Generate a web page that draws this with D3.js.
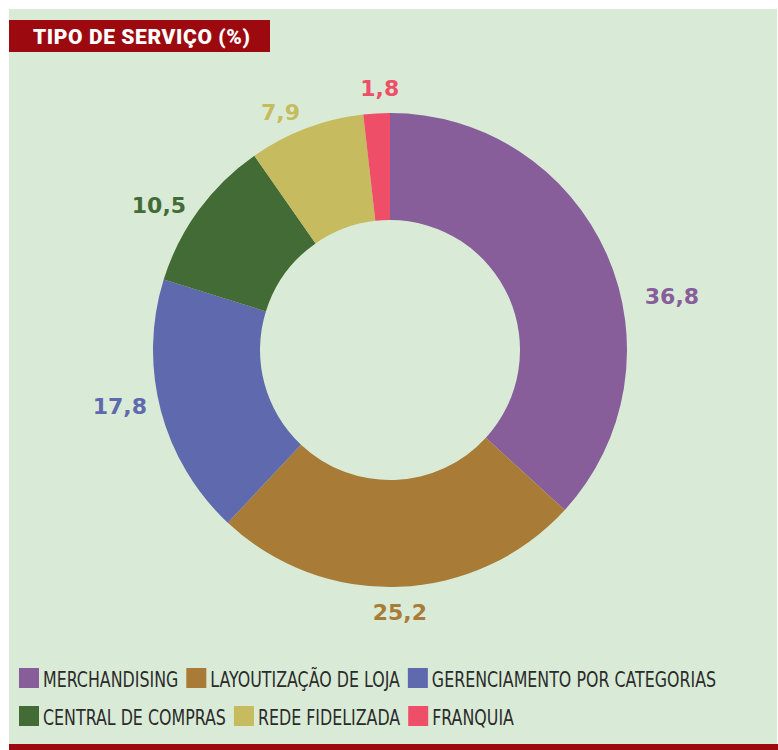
<!DOCTYPE html>
<html>
<head>
<meta charset="utf-8">
<script src="https://cdn.jsdelivr.net/npm/d3@7"></script>
<style>
  body { margin: 0; background: #fff; }
  svg { display: block; }
</style>
</head>
<body>
<div id="chart"></div>
<script>

const categories = ['MERCHANDISING', 'LAYOUTIZAÇÃO DE LOJA', 'GERENCIAMENTO POR CATEGORIAS', 'CENTRAL DE COMPRAS', 'REDE FIDELIZADA', 'FRANQUIA']
const values = [36.8, 25.2, 17.8, 10.5, 7.9, 1.8]
const colors = ['#875d9a', '#a87c36', '#5f69ad', '#436b35', '#c6bb5e', '#ee4e68']
const title = 'TIPO DE SERVIÇO (%)'

// label placement tweaks (degrees / px), layout only
const labelShift = [13, 0, 3, -4, -4, 1]
const labelRadius = [287, 262, 276, 273, 262, 262]

const width = 778, height = 750
const cx = 390, cy = 350
const outerR = 237, innerR = 130

const fmt = v => d3.format('.1f')(v).replace('.', ',')

let svg = d3.select('#chart').append('svg')
  .attr('width', width)
  .attr('height', height)

// panel
svg.append('rect')
  .attr('x', 9).attr('y', 9)
  .attr('width', 768).attr('height', 741)
  .style('fill', '#d9ebd6')

svg.append('rect')
  .attr('x', 9).attr('y', 744)
  .attr('width', 769).attr('height', 6)
  .style('fill', '#9c0a10')

// title
svg.append('rect')
  .attr('x', 9).attr('y', 20)
  .attr('width', 261).attr('height', 32)
  .style('fill', '#9c0a10')

svg.append('text')
  .attr('x', 33).attr('y', 44)
  .style('font-family', 'Roboto, "Liberation Sans", sans-serif')
  .style('font-weight', 900)
  .style('font-size', '21px')
  .style('letter-spacing', '0.6px')
  .style('fill', '#fff')
  .text(title)

// donut
let data = categories.map((c, i) => ({ name: c, value: values[i], color: colors[i], i: i }))

let pie = d3.pie().sort(null).value(d => d.value)
let arc = d3.arc().innerRadius(innerR).outerRadius(outerR)

let arcs = pie(data)

let g = svg.append('g').attr('transform', 'translate(' + cx + ',' + cy + ')')

g.selectAll('path')
  .data(arcs)
  .enter()
  .append('path')
  .attr('d', arc)
  .style('fill', d => d.data.color)

g.selectAll('text')
  .data(arcs)
  .enter()
  .append('text')
  .attr('transform', d => {
    let a = (d.startAngle + d.endAngle) / 2 + labelShift[d.data.i] * Math.PI / 180
    let r = labelRadius[d.data.i]
    return 'translate(' + (r * Math.sin(a)) + ',' + (-r * Math.cos(a)) + ')'
  })
  .attr('text-anchor', 'middle')
  .attr('dy', '0.36em')
  .style('font-family', '"DejaVu Sans", sans-serif')
  .style('font-weight', 700)
  .style('font-size', '22px')
  .style('fill', d => d.data.color)
  .text(d => fmt(d.data.value))

// legend
let rows = [[0, 1, 2], [3, 4, 5]]
let legend = svg.append('g')
let squeeze = 0.84

rows.forEach((row, ri) => {
  let x = 19
  let y = 668 + ri * 38
  row.forEach(i => {
    legend.append('rect')
      .attr('x', x).attr('y', y)
      .attr('width', 20).attr('height', 20)
      .style('fill', colors[i])
    let t = legend.append('text')
      .attr('transform', 'translate(' + (x + 24) + ',' + (y + 19) + ') scale(' + squeeze + ',1)')
      .style('font-family', '"DejaVu Sans Condensed", "Liberation Sans Narrow", sans-serif')
      .style('font-stretch', 'condensed')
      .style('font-weight', 300)
      .style('font-size', '21px')
      .style('fill', '#2b2b2b')
      .text(categories[i])
    x += 24 + t.node().getComputedTextLength() * squeeze + 8
  })
})

</script>
</body>
</html>
